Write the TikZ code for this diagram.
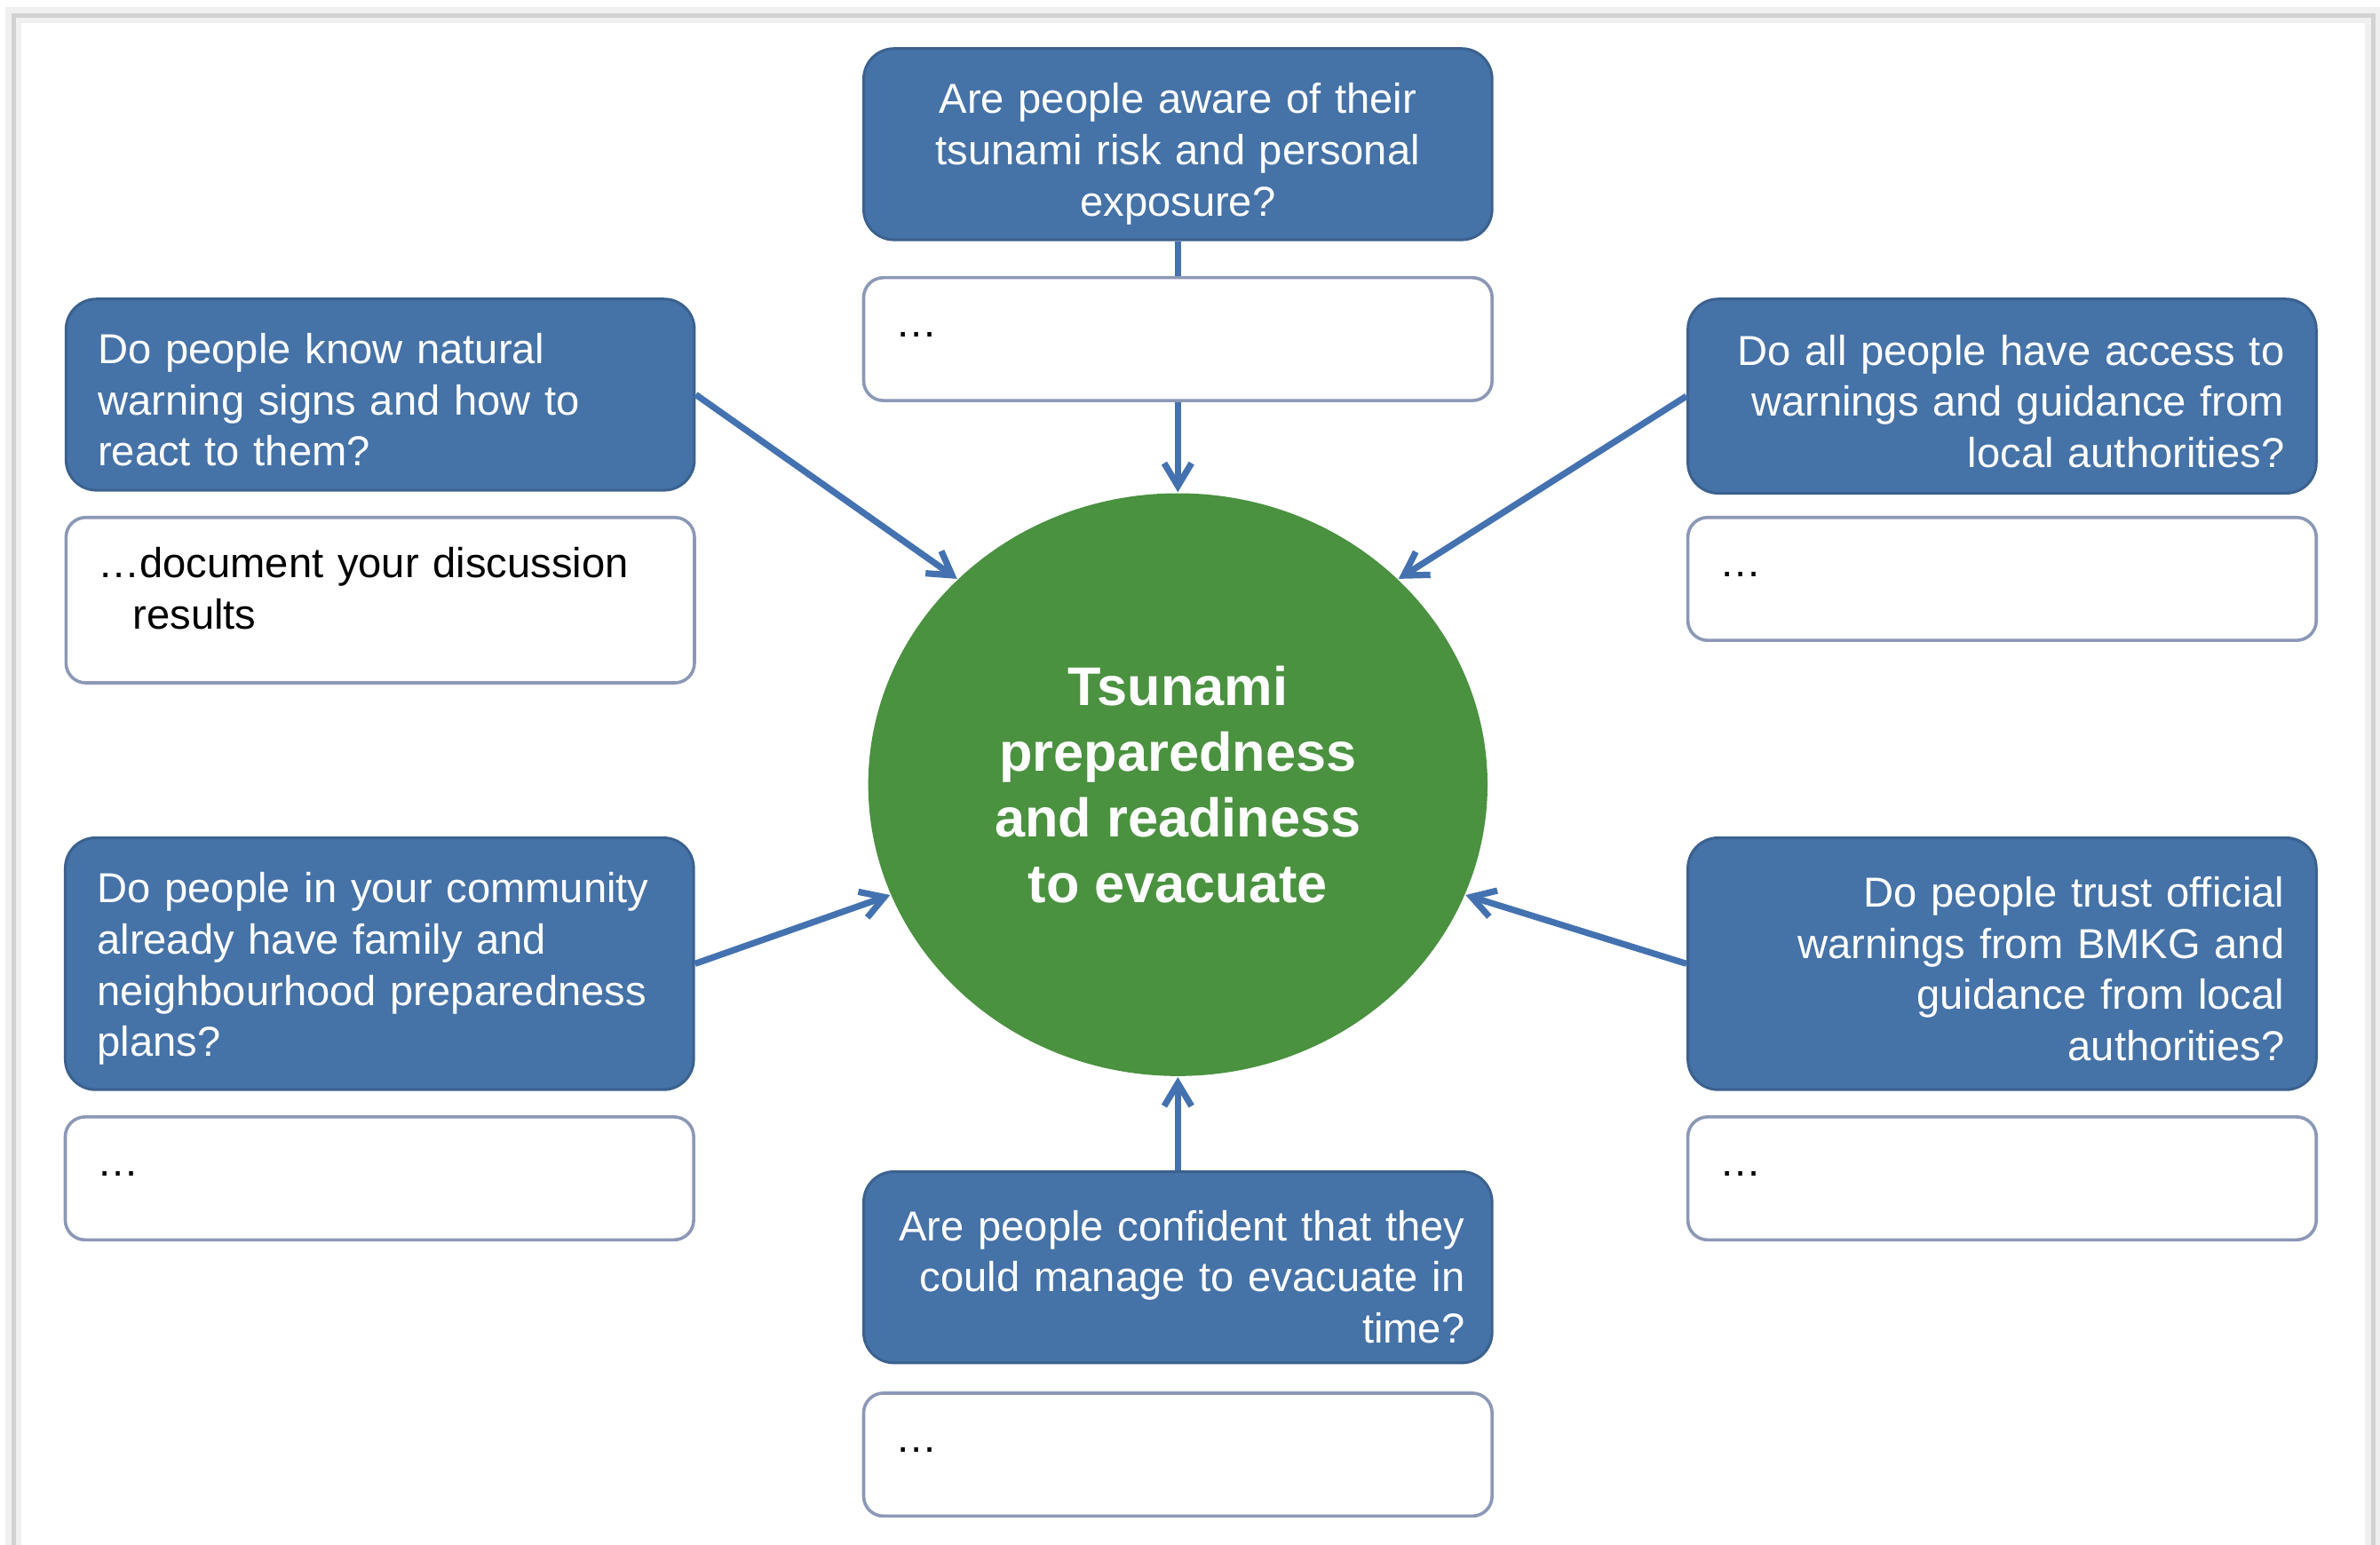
\documentclass[tikz,border=0pt]{standalone}
\usepackage{fontspec}
\setmainfont{Liberation Sans}
\usetikzlibrary{positioning,arrows.meta,shapes.geometric}

\definecolor{qblue}{RGB}{69,114,167}
\definecolor{lineblue}{RGB}{68,114,176}
\definecolor{cgreen}{RGB}{74,145,64}
\definecolor{boxgray}{RGB}{140,152,182}

\tikzset{
	question/.style={rectangle, rounded corners=2mm, fill=qblue, draw=qblue!85!black,
		line width=0.5pt, text=white, text width=3.72cm, inner xsep=2.1mm, inner ysep=0pt,
		text height=7.6pt, font=\fontsize{7.85}{9.6}\selectfont},
	answer/.style={rectangle, rounded corners=1.3mm, draw=boxgray, fill=white,
		line width=0.6pt, text width=3.72cm, inner xsep=2.1mm, align=left,
		minimum height=0.81cm, text depth=1.8pt, font=\fontsize{7.85}{9.5}\selectfont},
	centre/.style={ellipse, fill=cgreen, text=white, minimum width=4.08cm,
		minimum height=3.84cm, inner sep=0pt, align=center,
		font=\fontsize{10.2}{12.3}\selectfont\bfseries},
	link/.style={draw=lineblue, line width=1.2pt},
	arr/.style={link, -{Straight Barb[length=1.5mm,width=1.8mm]}}
}

\begin{document}
\begin{tikzpicture}

	\useasboundingbox (0,0) rectangle (15.68,-10.18);

% Hoja
	\draw[gray!12, line width=3pt] (0.09,-10.3) -- (0.09,-0.10) -- (15.635,-0.10) -- (15.635,-10.3);
	\draw[gray!35, line width=0.8pt] (0.09,-10.3) -- (0.09,-0.10) -- (15.635,-0.10) -- (15.635,-10.3);

% Centro
	\node[centre] (c) at (7.76,-5.17) {Tsunami\\preparedness\\and readiness\\to evacuate};

% Preguntas
	\node[question, align=center, minimum height=1.26cm, text height=9.3pt] (q1) at (7.76,-0.95)
		{Are people aware of their\\tsunami risk and personal\\exposure?};
	\node[question, align=left, minimum height=1.26cm] (q2) at (2.505,-2.60)
		{Do people know natural\\warning signs and how to\\react to them?};
	\node[question, align=right, minimum height=1.28cm] (q3) at (13.19,-2.61)
		{Do all people have access to\\warnings and guidance from\\local authorities?};
	\node[question, align=left, minimum height=1.66cm] (q4) at (2.50,-6.35)
		{Do people in your community\\already have family and\\neighbourhood preparedness\\plans?};
	\node[question, align=right, minimum height=1.66cm] (q5) at (13.19,-6.35)
		{Do people trust official\\warnings from BMKG and\\guidance from local\\authorities?};
	\node[question, align=right, minimum height=1.26cm, text height=9.3pt,
		text width=3.78cm, inner xsep=1.8mm] (q6) at (7.76,-8.35)
		{Are people confident that they\\could manage to evacuate in\\time?};

% Respuestas
	\node[answer, below=2.3mm of q1] (a1) {…};
	\node[answer, below=1.6mm of q2, minimum height=1.09cm, text depth=14pt] (a2)
		{…document your discussion\\\hspace*{2.3mm}results};
	\node[answer, below=1.4mm of q3] (a3) {…};
	\node[answer, below=1.6mm of q4] (a4) {…};
	\node[answer, below=1.6mm of q5] (a5) {…};
	\node[answer, below=1.8mm of q6] (a6) {…};

% Flechas
	\draw[link] (q1) -- (a1);
	\draw[arr] (a1) -- (c);
	\draw[arr] (q2.east) -- (c.137);
	\draw[arr] (q3.west) -- (c.43);
	\draw[arr] (q4.east) -- (c.201);
	\draw[arr] (q5.west) -- (c.339);
	\draw[arr] (q6) -- (c);

\end{tikzpicture}
\end{document}
